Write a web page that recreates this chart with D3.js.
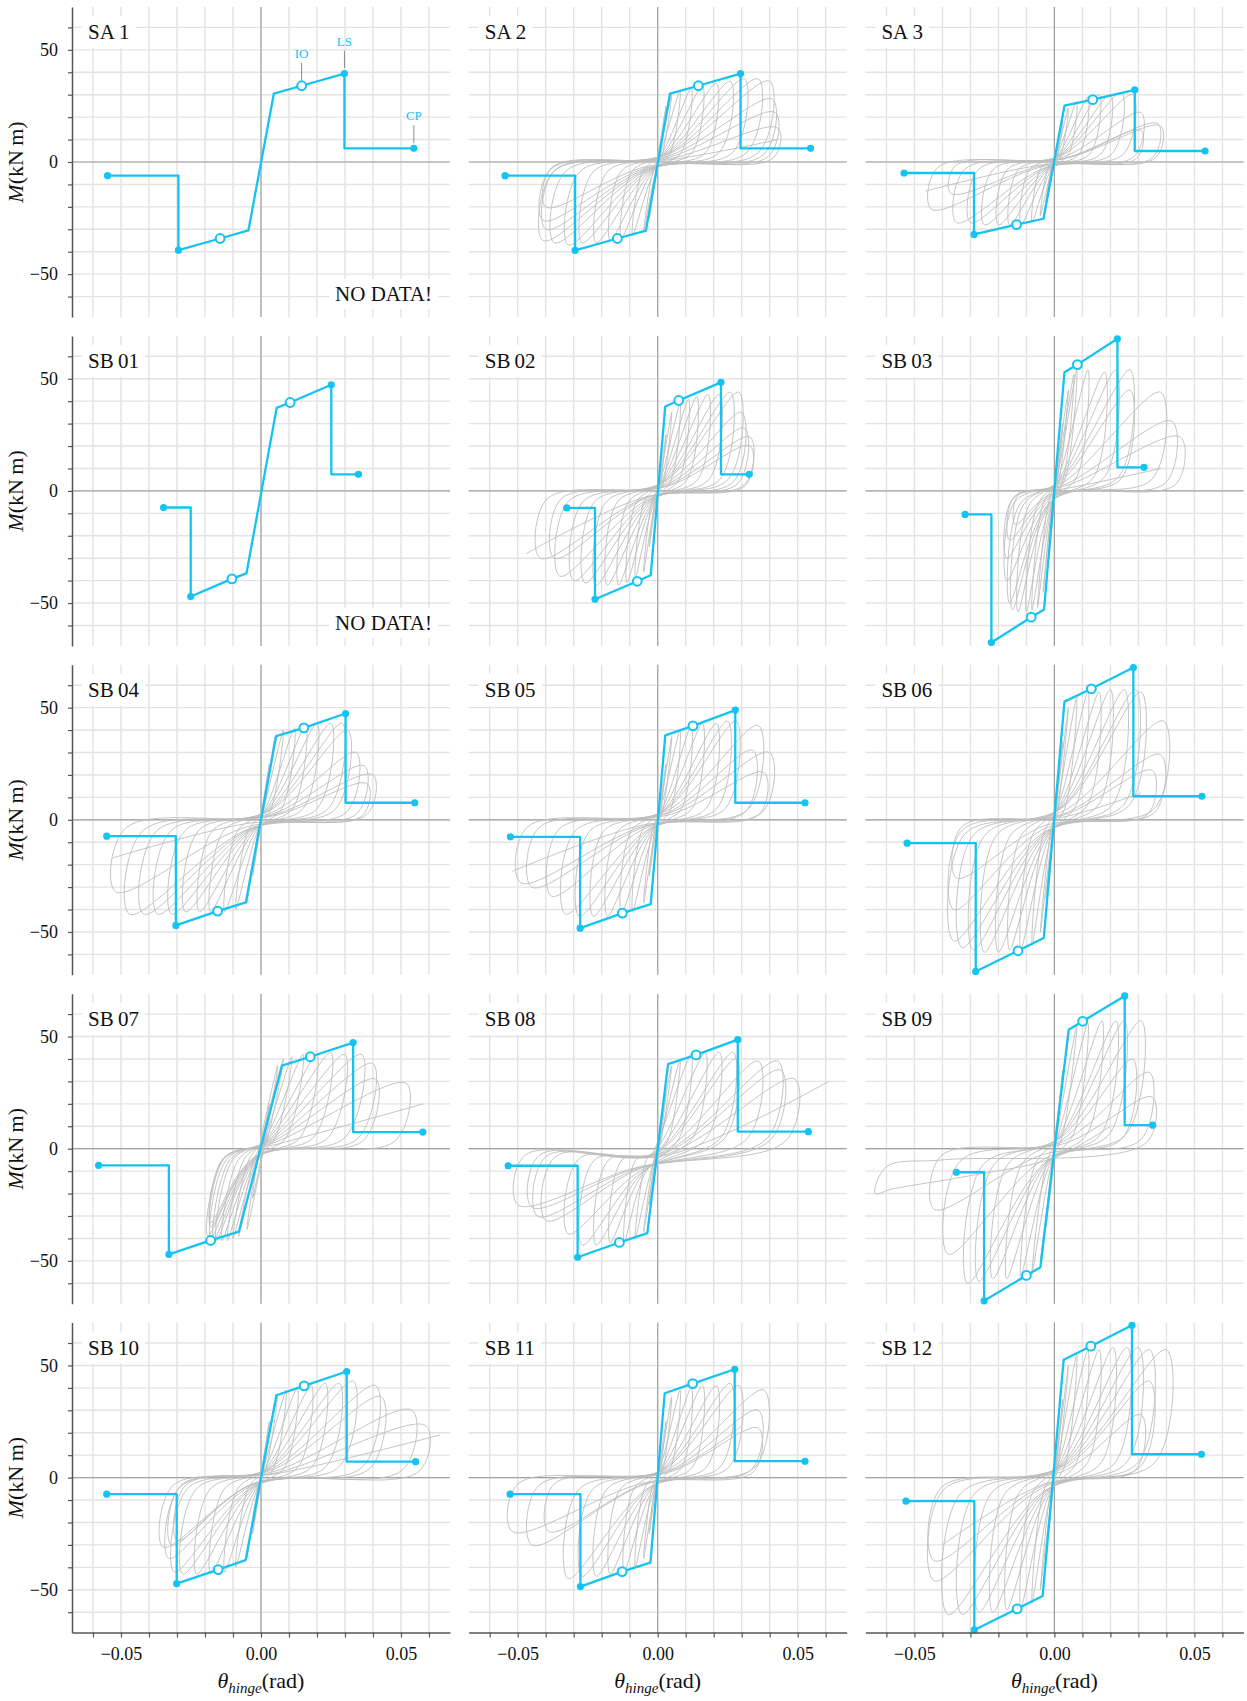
<!DOCTYPE html>
<html><head><meta charset="utf-8">
<script src="https://cdn.jsdelivr.net/npm/d3@7"></script>
<style>
body{margin:0;background:#fff;}
svg text{font-family:"Liberation Serif","DejaVu Serif",serif;fill:#111;}
</style></head><body>
<svg id="chart" width="1247" height="1701"></svg>
<script>
// ---------- categories / labels ----------
const panelNames = ["SA\u20091","SA\u20092","SA\u20093","SB\u200901","SB\u200902","SB\u200903","SB\u200904","SB\u200905","SB\u200906","SB\u200907","SB\u200908","SB\u200909","SB\u200910","SB\u200911","SB\u200912"];
const noDataPanels = ["SA\u20091","SB\u200901"];
const xGridTicks = [-0.06,-0.05,-0.04,-0.03,-0.02,-0.01,0,0.01,0.02,0.03,0.04,0.05,0.06];
const xLabelTicks = [-0.05,0,0.05];
const yGridTicks = [-60,-50,-40,-30,-20,-10,0,10,20,30,40,50,60];
const yLabelTicks = [-50,0,50];
const limitLabels = ["IO","LS","CP"];

// ---------- backbone curves: [theta (rad), M (kN m)] ----------
const bbSA1  = [[-0.0548,-6.1],[-0.0295,-6.1],[-0.0295,-39.3],[-0.0146,-34.1],[-0.0045,-30.5],[0.0046,30.5],[0.0145,34.0],[0.0298,39.4],[0.0298,6.1],[0.0546,6.1]];
const bbSA2  = [[-0.0545,-6.1],[-0.0295,-6.1],[-0.0295,-39.4],[-0.0144,-34.1],[-0.0042,-30.6],[0.0044,30.5],[0.0145,34.0],[0.0296,39.4],[0.0296,6.1],[0.0546,6.1]];
const bbSA3  = [[-0.0537,-4.9],[-0.0287,-4.9],[-0.0287,-32.3],[-0.0135,-27.9],[-0.0039,-25.3],[0.0036,25.1],[0.0137,27.8],[0.0287,32.2],[0.0287,4.9],[0.0538,4.9]];
const bbSB01 = [[-0.0348,-7.4],[-0.0251,-7.4],[-0.0251,-47.1],[-0.0104,-39.2],[-0.0052,-36.8],[0.0056,37.0],[0.0104,39.4],[0.0251,47.3],[0.0251,7.4],[0.0348,7.4]];
const bbSB02 = [[-0.0325,-7.6],[-0.0224,-7.6],[-0.0224,-48.3],[-0.0073,-40.3],[-0.0025,-37.6],[0.0027,37.6],[0.0075,40.3],[0.0226,48.4],[0.0226,7.4],[0.0327,7.4]];
const bbSB03 = [[-0.0319,-10.5],[-0.0225,-10.5],[-0.0225,-67.6],[-0.0083,-56.3],[-0.0037,-52.9],[0.0036,52.9],[0.0082,56.3],[0.0225,67.8],[0.0225,10.5],[0.0320,10.5]];
const bbSB04 = [[-0.0551,-7.3],[-0.0304,-7.3],[-0.0304,-47.1],[-0.0155,-40.7],[-0.0054,-36.8],[0.0054,37.3],[0.0153,41.0],[0.0302,47.4],[0.0302,7.6],[0.0549,7.6]];
const bbSB05 = [[-0.0526,-7.6],[-0.0277,-7.6],[-0.0277,-48.3],[-0.0126,-41.6],[-0.0025,-37.6],[0.0027,37.6],[0.0126,41.9],[0.0277,48.9],[0.0277,7.6],[0.0526,7.6]];
const bbSB06 = [[-0.0526,-10.4],[-0.0281,-10.4],[-0.0281,-67.6],[-0.0130,-58.4],[-0.0038,-52.7],[0.0036,52.7],[0.0132,58.4],[0.0282,67.9],[0.0282,10.5],[0.0527,10.5]];
const bbSB07 = [[-0.0580,-7.4],[-0.0329,-7.4],[-0.0329,-47.1],[-0.0180,-40.9],[-0.0079,-37.0],[0.0075,37.0],[0.0176,41.0],[0.0329,47.3],[0.0329,7.4],[0.0578,7.4]];
const bbSB08 = [[-0.0534,-7.6],[-0.0286,-7.6],[-0.0286,-48.4],[-0.0137,-41.8],[-0.0037,-37.6],[0.0037,37.7],[0.0137,41.8],[0.0286,48.6],[0.0286,7.6],[0.0538,7.6]];
const bbSB09 = [[-0.0350,-10.5],[-0.0251,-10.5],[-0.0251,-67.8],[-0.0100,-56.5],[-0.0050,-52.9],[0.0051,53.0],[0.0101,56.8],[0.0251,68.1],[0.0251,10.5],[0.0351,10.5]];
const bbSB10 = [[-0.0551,-7.4],[-0.0301,-7.4],[-0.0301,-47.3],[-0.0153,-41.0],[-0.0055,-36.8],[0.0055,36.7],[0.0154,40.9],[0.0306,47.3],[0.0306,7.1],[0.0552,7.1]];
const bbSB11 = [[-0.0527,-7.4],[-0.0276,-7.4],[-0.0276,-48.6],[-0.0127,-41.9],[-0.0026,-37.9],[0.0025,37.6],[0.0125,41.9],[0.0275,48.3],[0.0275,7.3],[0.0526,7.3]];
const bbSB12 = [[-0.0530,-10.5],[-0.0286,-10.5],[-0.0286,-67.9],[-0.0133,-58.5],[-0.0042,-52.8],[0.0033,52.5],[0.0130,58.6],[0.0277,67.9],[0.0277,10.4],[0.0525,10.4]];

// ---------- measured hysteresis (theta in mrad, M in kN m), flat pairs ----------
const hySA2 = [0,0, 3,25, 0.2,3, -0.3,-2.5, -3,-25, -0.2,-3, 0.5,3, 5,30, 1.7,3.6, -0.5,-3.1, -5,-31, -1.6,-3.7, 0.8,3.2, 8,32, 4.4,3.8, -0.9,-3.3, -9,-33, -5.3,-4, 1.2,3.3, 12,33, 8.3,4, -1.3,-3.4, -13,-34, -9.2,-4.1, 1.6,3.4, 16,34, 12.2,4.1, -1.7,-3.5, -17,-35, -13.1,-4.2, 2.1,3.5, 21,35, 17.1,4.2, -2.2,-3.6, -22,-36, -18,-4.3, 2.6,3.6, 26,36, 22,4.3, -2.7,-3.6, -27,-36, -23,-4.3, 3.1,3.7, 31,37, 26.9,4.4, -3.2,-3.7, -32,-37, -27.9,-4.4, 3.6,3.7, 36,37, 31.9,4.4, -3.7,-3.6, -37,-36, -33,-4.3, 4,3.6, 40,36, 36,4.3, -4.1,-3.5, -41,-35, -37.1,-4.2, 4.1,2.8, 41,28, 37.9,3.4, -4,-3, -40,-30, -36.7,-3.6, 4.2,2.2, 42,22, 39.6,2.6, -4.1,-2.6, -41,-26, -38.1,-3.1, 4.3,1.5, 43,15, 41.3,1.8, -4,-2, -40,-20, -37.8,-2.4, 4.3,1, 43,10];
const hySA3 = [0,0, 3,18, 1,2.2, -0.3,-1.8, -3,-18, -1,-2.2, 0.5,2.4, 5,24, 2.3,2.9, -0.5,-2.4, -5,-24, -2.3,-2.9, 0.8,2.7, 8,27, 5,3.2, -0.8,-2.7, -8,-27, -5,-3.2, 1.2,2.9, 12,29, 8.8,3.5, -1.2,-2.8, -12,-28, -8.9,-3.4, 1.6,3, 16,30, 12.7,3.6, -1.6,-2.8, -16,-28, -12.9,-3.4, 2,3, 20,30, 16.7,3.6, -2,-2.8, -20,-28, -16.9,-3.4, 2.4,3.1, 24,31, 20.6,3.7, -2.5,-2.8, -25,-28, -21.9,-3.4, 2.8,3, 28,30, 24.7,3.6, -3,-2.7, -30,-27, -27,-3.2, 3.1,2.2, 31,22, 28.6,2.6, -3.5,-2.7, -35,-27, -32,-3.2, 3.1,1.4, 31,14, 29.4,1.7, -3.7,-1.4, -37,-14, -35.4,-1.7, 3.7,1.7, 37,17, 35.1,2, -4.4,-2.1, -44,-21, -41.7,-2.5, 3.8,1.6, 38,16, 36.2,1.9, -4.6,-1.3, -46,-13];
const hySB02 = [0,0, 3,25, 0.9,3, -0.3,-2.5, -3,-25, -0.9,-3, 0.5,3.5, 5,35, 2.1,4.2, -0.5,-3.6, -5,-36, -2,-4.3, 0.8,3.9, 8,39, 4.75,4.7, -0.8,-3.9, -8,-39, -4.75,-4.7, 1.1,4.1, 11,41, 7.6,4.9, -1.1,-4.1, -11,-41, -7.6,-4.9, 1.4,4.2, 14,42, 10.5,5, -1.4,-4.2, -14,-42, -10.5,-5, 1.8,4.3, 18,43, 14.4,5.2, -1.8,-4.2, -18,-42, -14.5,-5, 2.2,4.3, 22,43, 18.4,5.2, -2.2,-4.2, -22,-42, -18.5,-5, 2.6,4.4, 26,44, 22.3,5.3, -2.6,-4.1, -26,-41, -22.6,-4.9, 2.9,4.4, 29,44, 25.3,5.3, -3,-4, -30,-40, -26.7,-4.8, 3,3.5, 30,35, 27.1,4.2, -3.5,-3.8, -35,-38, -31.8,-4.6, 3.1,2.8, 31,28, 28.7,3.4, -3.7,-3, -37,-30, -34.5,-3.6, 3.3,2.4, 33,24, 31,2.9, -4.2,-3, -42,-30, -39.5,-3.6, 3.3,2, 33,20, 31.3,2.4, -4.7,-2.8, -47,-28];
const hySB03 = [0,0, 3,30, 0.9,3.6, -0.2,-3, -2,-30, 0.1,-3.6, 0.5,4.5, 5,45, 1.8,5.4, -0.4,-4.5, -4,-45, -0.8,-5.4, 0.7,5.2, 7,52, 3.3,6.2, -0.6,-5.2, -6,-52, -2.3,-6.2, 0.8,5.4, 8,54, 4.1,6.5, -0.8,-5.3, -8,-53, -4.2,-6.4, 1.2,5.4, 12,54, 8.1,6.5, -1,-5.4, -10,-54, -6.1,-6.5, 1.8,5.3, 18,53, 14.2,6.4, -1.3,-5.4, -13,-54, -9.1,-6.5, 2.2,5.4, 22,54, 18.1,6.5, -1.5,-5.3, -15,-53, -11.2,-6.4, 2.7,5.4, 27,54, 23.1,6.5, -1.6,-5, -16,-50, -12.4,-6, 2.7,4.5, 27,45, 23.8,5.4, -1.7,-4, -17,-40, -14.1,-4.8, 3.8,4.4, 38,44, 34.9,5.3, -1.7,-3, -17,-30, -14.9,-3.6, 4.2,3.1, 42,31, 39.8,3.7, -1.6,-2.2, -16,-22, -14.4,-2.6, 4.5,2.4, 45,24, 43.3,2.9, -1.4,-1.5, -14,-15, -12.9,-1.8, 3.8,1, 38,10];
const hySB04 = [0,0, 3,25, 0.2,3, -0.3,-2.5, -3,-25, -0.2,-3, 0.5,3.7, 5,37, 0.9,4.4, -0.5,-3.7, -5,-37, -0.9,-4.4, 0.8,4, 8,40, 3.6,4.8, -0.9,-4, -9,-40, -4.6,-4.8, 1.2,4.1, 12,41, 7.4,4.9, -1.3,-4.1, -13,-41, -8.4,-4.9, 1.6,4.2, 16,42, 11.3,5, -1.8,-4.1, -18,-41, -13.4,-4.9, 2,4.3, 20,43, 15.2,5.2, -2.2,-4.1, -22,-41, -17.4,-4.9, 2.5,4.3, 25,43, 20.2,5.2, -2.7,-4.1, -27,-41, -22.4,-4.9, 2.9,4.3, 29,43, 24.2,5.2, -3.2,-4.2, -32,-42, -27.3,-5, 3.1,4, 31,40, 26.6,4.8, -3.7,-4.2, -37,-42, -32.3,-5, 3.4,3, 34,30, 30.7,3.6, -4.2,-4.2, -42,-42, -37.3,-5, 3.7,2.4, 37,24, 34.3,2.9, -4.7,-4.2, -47,-42, -42.3,-5, 4,2, 40,20, 37.8,2.4, -5.2,-3.2, -52,-32, -48.4,-3.8, 3.8,1.6, 38,16, 36.2,1.9, -5.3,-1.7, -53,-17];
const hySB05 = [0,0, 3,25, 0.9,3, -0.3,-2.5, -3,-25, -0.9,-3, 0.5,3.7, 5,37, 1.9,4.4, -0.5,-3.7, -5,-37, -1.9,-4.4, 0.8,4, 8,40, 4.7,4.8, -0.9,-4.1, -9,-41, -5.6,-4.9, 1.2,4.2, 12,42, 8.5,5, -1.3,-4.2, -13,-42, -9.5,-5, 1.6,4.3, 16,43, 12.4,5.2, -1.8,-4.3, -18,-43, -14.4,-5.2, 2.1,4.3, 21,43, 17.4,5.2, -2.3,-4.3, -23,-43, -19.4,-5.2, 2.5,4.4, 25,44, 21.3,5.3, -2.8,-4.3, -28,-43, -24.4,-5.2, 2.8,4.4, 28,44, 24.3,5.3, -3.3,-4.2, -33,-42, -29.5,-5, 3.6,4.2, 36,42, 32.5,5, -3.8,-3.4, -38,-34, -35.2,-4.1, 3.4,3.1, 34,31, 31.4,3.7, -4.5,-3, -45,-30, -42.5,-3.6, 4,3, 40,30, 37.5,3.6, -4.9,-2.8, -49,-28, -46.7,-3.4, 3.8,2.1, 38,21, 36.25,2.5, -5.2,-2.3, -52,-23];
const hySB06 = [0,0, 3,35, 0.5,4.2, -0.3,-3.5, -3,-35, -0.5,-4.2, 0.5,5, 5,50, 1.4,6, -0.5,-5, -5,-50, -1.4,-6, 0.8,5.5, 8,55, 4.1,6.6, -0.8,-5.6, -8,-56, -4,-6.7, 1.2,5.7, 12,57, 7.9,6.8, -1.2,-5.8, -12,-58, -7.9,-7, 1.6,5.7, 16,57, 11.9,6.8, -1.6,-5.8, -16,-58, -11.9,-7, 2,5.8, 20,58, 15.9,7, -2,-5.9, -20,-59, -15.8,-7.1, 2.5,5.8, 25,58, 20.9,7, -2.5,-5.9, -25,-59, -20.8,-7.1, 2.9,5.8, 29,58, 24.9,7, -2.9,-5.8, -29,-58, -24.9,-7, 3.1,5.7, 31,57, 26.9,6.8, -3.3,-5.7, -33,-57, -28.9,-6.8, 3.9,4.4, 39,44, 35.9,5.3, -3.6,-5.4, -36,-54, -32.1,-6.5, 3.8,2.9, 38,29, 35.9,3.5, -3.6,-4, -36,-40, -33.1,-4.8, 3.5,2.2, 35,22, 33.4,2.6, -3.5,-2.6, -35,-26, -33.1,-3.1, 3.1,1.2, 31,12];
const hySB07 = [0,0, 3,20, 0.5,-1, -3,-22, -0.5,1, 6,37, 1.5,3, -5,-36, -1,-3, 8,40, 2.3,4.8, -0.8,-3.9, -8,-39, -2.4,-4.7, 1.1,4.1, 11,41, 5.1,4.9, -1,-4, -10,-40, -4.3,-4.8, 1.5,4.2, 15,42, 9,5, -1.2,-4.1, -12,-41, -6.1,-4.9, 2,4.2, 20,42, 14,5, -1.4,-4.1, -14,-41, -8.1,-4.9, 2.5,4.3, 25,43, 18.9,5.2, -1.6,-4.1, -16,-41, -10.1,-4.9, 3,4.2, 30,42, 24,5, -1.7,-4.1, -17,-41, -11.1,-4.9, 3.6,4.2, 36,42, 30,5, -1.8,-4, -18,-40, -12.3,-4.8, 4,3.8, 40,38, 34.6,4.6, -1.9,-3.9, -19,-39, -13.4,-4.7, 4.1,3.1, 41,31, 36.6,3.7, -1.8,-3.5, -18,-35, -13,-4.2, 5.2,2.9, 52,29, 47.9,3.5, -1.8,-3.3, -18,-33, -13.3,-4, 5.8,2, 58,20];
const hySB08 = [0,0, 3,25, 0.6,1, -3,-25, -0.6,-1, 5,37, 1.3,4.4, -0.5,-3.7, -5,-37, -1.3,-4.4, 0.8,4, 8,40, 4,4.8, -0.8,-4, -8,-40, -4,-4.8, -1.8,-1.8, 12,42, 7.8,5, -4.2,-10.2, -12,-42, -7.8,-5, -1.3,-1.7, 17,43, 12.7,5.2, -4.7,-10.2, -17,-42, -12.8,-5, -0.8,-1.7, 22,43, 17.7,5.2, -5.2,-10.3, -22,-43, -17.7,-5.2, -0.3,-1.7, 27,43, 22.7,5.2, -5.7,-10.3, -27,-43, -22.7,-5.2, -0.2,-2, 28,40, 24,4.8, -6.2,-9.8, -32,-38, -28.2,-4.6, 0.6,-2.1, 36,39, 32.1,4.7, -7,-9.2, -40,-32, -36.8,-3.8, 1.3,-2.1, 43,39, 39.1,4.7, -7.3,-9, -43,-30, -40,-3.6, 1.4,-2.5, 44,35, 40.5,4.2, -8,-8.5, -50,-25, -47.5,-3, 1.9,-2.9, 49,31, 45.9,3.7, -7.5,-8.6, -45,-26, -42.4,-3.1, 3.1,-3, 61,30];
const hySB09 = [0,0, 3,35, 0.5,2, -3,-35, -0.5,-2, 5,50, 0.5,6, -0.5,-5, -5,-50, -0.5,-6, 0.8,5.5, 8,55, 3,6.6, -0.8,-5.6, -8,-56, -2.9,-6.7, 1.2,5.6, 12,56, 6.9,6.7, -1.2,-5.7, -12,-57, -6.8,-6.8, 1.7,5.7, 17,57, 11.8,6.8, -1.7,-5.8, -17,-58, -11.7,-7, 2.2,5.7, 22,57, 16.8,6.8, -2.2,-5.8, -22,-58, -16.7,-7, 2.5,5.7, 25,57, 19.8,6.8, -2.7,-5.9, -27,-59, -21.6,-7.1, 3.1,5.7, 31,57, 25.8,6.8, -3.1,-6, -31,-60, -25.5,-7.2, 2.8,4, 28,40, 24.4,4.8, -3.8,-4.7, -38,-47, -33.7,-5.6, 3.4,3.4, 34,34, 30.9,4.1, -4.3,-2.7, -43,-27, -40.5,-3.2, 3.5,2.3, 35,23, 32.9,2.8, -40,-5, -60,-8, -64,-20, -58,-18, -30,-12, 0,-4, 20,10];
const hySB10 = [0,0, 3,25, 0.2,3, -0.3,-2.5, -3,-25, -0.2,-3, 0.6,3.7, 6,37, 1.9,4.4, -0.5,-3.6, -5,-36, -1,-4.3, 0.9,3.9, 9,39, 4.7,4.7, -0.9,-4, -9,-40, -4.6,-4.8, 1.3,4, 13,40, 8.6,4.8, -1.3,-4.2, -13,-42, -8.3,-5, 1.8,4.1, 18,41, 13.4,4.9, -1.8,-4.3, -18,-43, -13.2,-5.2, 2.3,4.2, 23,42, 18.3,5, -2.3,-4.3, -23,-43, -18.2,-5.2, 2.8,4.2, 28,42, 23.3,5, -2.8,-4.3, -28,-43, -23.2,-5.2, 3.3,4.3, 33,43, 28.2,5.2, -3.1,-4.2, -31,-42, -26.3,-5, 4.1,4.1, 41,41, 36.4,4.9, -3.5,-3.1, -35,-31, -31.6,-3.7, 4.3,3.6, 43,36, 39,4.3, -3.3,-3.6, -33,-36, -29,-4.3, 5.4,3, 54,30, 50.7,3.6, -3.2,-3, -32,-30, -28.7,-3.6, 5.9,2.3, 59,23, 56.4,2.8, -3,-2.8, -30,-28, -26.9,-3.4, 6.4,1.9, 64,19];
const hySB11 = [0,0, 3,25, 0.9,3, -0.3,-2.5, -3,-25, -0.9,-3, 0.5,3.6, 5,36, 2,4.3, -0.5,-3.6, -5,-36, -2,-4.3, 0.8,3.9, 8,39, 4.75,4.7, -0.8,-4, -8,-40, -4.7,-4.8, 1.2,4, 12,40, 8.7,4.8, -1.2,-4.2, -12,-42, -8.5,-5, 1.6,4.1, 16,41, 12.6,4.9, -1.7,-4.3, -17,-43, -13.4,-5.2, 2.1,4.1, 21,41, 17.6,4.9, -2.2,-4.4, -22,-44, -18.3,-5.3, 2.6,4.2, 26,42, 22.5,5, -2.7,-4.4, -27,-44, -23.3,-5.3, 2.9,4.1, 29,41, 25.6,4.9, -3.2,-4.5, -32,-45, -28.25,-5.4, 3.8,3.9, 38,39, 34.75,4.7, -3.9,-2.4, -39,-24, -37,-2.9, 3.6,3, 36,30, 33.5,3.6, -4.5,-3, -45,-30, -42.5,-3.6, 3.6,2.2, 36,22, 34.2,2.6, -5.2,-2.4, -52,-24, -50,-2.9, 3,2.3, 30,23];
const hySB12 = [0,0, 3,35, 0.5,4.2, -0.3,-3.5, -3,-35, -0.5,-4.2, 0.5,5, 5,50, 1.4,6, -0.5,-5, -5,-50, -1.4,-6, 0.8,5.5, 8,55, 4.1,6.6, -0.8,-5.6, -8,-56, -4,-6.7, 1.2,5.7, 12,57, 7.9,6.8, -1.2,-5.8, -12,-58, -7.9,-7, 1.6,5.7, 16,57, 11.9,6.8, -1.7,-5.9, -17,-59, -12.8,-7.1, 2.1,5.8, 21,58, 16.9,7, -2.2,-6, -22,-60, -17.7,-7.2, 2.6,5.8, 26,58, 21.9,7, -2.7,-6, -27,-60, -22.7,-7.2, 3,5.8, 30,58, 25.9,7, -3.3,-6.1, -33,-61, -28.6,-7.3, 3.4,5.7, 34,57, 29.9,6.8, -3.8,-6.1, -38,-61, -33.6,-7.3, 4,5.7, 40,57, 35.9,6.8, -4.3,-4.6, -43,-46, -39.7,-5.5, 3.4,4.3, 34,43, 30.9,5.2, -4.3,-3.7, -43,-37, -40.4,-4.4, 3.1,2.8, 31,28, 29,3.4, -4,-3, -40,-30];

const backbones = [bbSA1,bbSA2,bbSA3,bbSB01,bbSB02,bbSB03,bbSB04,bbSB05,bbSB06,bbSB07,bbSB08,bbSB09,bbSB10,bbSB11,bbSB12];
const hysteresis = [null,hySA2,hySA3,null,hySB02,hySB03,hySB04,hySB05,hySB06,hySB07,hySB08,hySB09,hySB10,hySB11,hySB12];

// ---------- layout ----------
const COL_X = [72, 468.7, 865.4];
const ROW_Y = [7, 335.9, 664.8, 993.7, 1322.6];
const W = 378, H = 310;
const BLUE = "#14c3f2";

const svg = d3.select("#chart");
const x = d3.scaleLinear().domain([-0.0675, 0.0675]).range([0, W]);
const y = d3.scaleLinear().domain([-69.1, 69.1]).range([H, 0]);
const bbLine = d3.line().x(d => x(d[0])).y(d => y(d[1]));
const hyLine = d3.line().x(d => x(d[0] / 1000)).y(d => y(d[1])).curve(d3.curveCatmullRom.alpha(0.5));
const toPairs = arr => d3.range(0, arr.length, 2).map(i => [arr[i], arr[i + 1]]);

panelNames.forEach((name, i) => {
  const r = Math.floor(i / 3), c = i % 3;
  const g = svg.append("g").attr("transform", `translate(${COL_X[c]},${ROW_Y[r]})`);

  // grid
  g.append("g").selectAll("line").data(xGridTicks).join("line")
    .attr("x1", d => x(d)).attr("x2", d => x(d)).attr("y1", 0).attr("y2", H)
    .attr("stroke", "#e3e3e3").attr("stroke-width", 1.4);
  g.append("g").selectAll("line").data(yGridTicks).join("line")
    .attr("x1", 0).attr("x2", W).attr("y1", d => y(d)).attr("y2", d => y(d))
    .attr("stroke", "#e3e3e3").attr("stroke-width", 1.4);
  // zero lines
  g.append("line").attr("x1", x(0)).attr("x2", x(0)).attr("y1", 0).attr("y2", H)
    .attr("stroke", "#a2a2a2").attr("stroke-width", 1.2);
  g.append("line").attr("x1", 0).attr("x2", W).attr("y1", y(0)).attr("y2", y(0))
    .attr("stroke", "#a2a2a2").attr("stroke-width", 1.2);

  // hysteresis
  if (hysteresis[i]) {
    g.append("path").attr("d", hyLine(toPairs(hysteresis[i])))
      .attr("fill", "none").attr("stroke", "#bdbdbd").attr("stroke-width", 0.9);
  }

  // backbone
  const bb = backbones[i];
  g.append("path").attr("d", bbLine(bb)).attr("fill", "none")
    .attr("stroke", BLUE).attr("stroke-width", 2.3).attr("stroke-linejoin", "round");
  [0, 2, 7, 9].forEach(k => {
    g.append("circle").attr("cx", x(bb[k][0])).attr("cy", y(bb[k][1])).attr("r", 3.6).attr("fill", BLUE);
  });
  [3, 6].forEach(k => {
    g.append("circle").attr("cx", x(bb[k][0])).attr("cy", y(bb[k][1])).attr("r", 4.4)
      .attr("fill", "#fff").attr("stroke", BLUE).attr("stroke-width", 2);
  });

  // limit-state annotations (first panel only)
  if (i === 0) {
    [6, 7, 9].forEach((k, j) => {
      const px = x(bb[k][0]), py = y(bb[k][1]);
      g.append("line").attr("x1", px).attr("x2", px).attr("y1", py - 23).attr("y2", py - 5.5)
        .attr("stroke", "#8a8a8a").attr("stroke-width", 1);
      g.append("text").attr("x", px).attr("y", py - 28).attr("text-anchor", "middle")
        .attr("font-size", 13).style("fill", BLUE).text(limitLabels[j]);
    });
  }

  // panel label with white box
  const lab = g.append("g");
  const lt = lab.append("text").attr("x", 16).attr("y", 32).attr("font-size", 21).text(name);
  const lb = lt.node().getBBox();
  lab.insert("rect", "text").attr("x", lb.x - 6).attr("y", lb.y - 4).attr("width", lb.width + 12)
    .attr("height", lb.height + 8).attr("fill", "#fff");

  if (noDataPanels.includes(name)) {
    const nd = g.append("g");
    const nt = nd.append("text").attr("x", W - 18).attr("y", H - 16).attr("text-anchor", "end")
      .attr("font-size", 21).text("NO DATA!");
    const nb = nt.node().getBBox();
    nd.insert("rect", "text").attr("x", nb.x - 6).attr("y", nb.y - 3).attr("width", nb.width + 12)
      .attr("height", nb.height + 6).attr("fill", "#fff");
  }

  // left axis
  if (c === 0) {
    const ax = g.append("g").call(
      d3.axisLeft(y).tickValues(yGridTicks).tickSize(4).tickSizeOuter(0).tickPadding(10)
        .tickFormat(d => yLabelTicks.includes(d) ? d3.format("d")(d) : ""));
    ax.select(".domain").attr("stroke", "#555").attr("stroke-width", 1.5);
    ax.selectAll(".tick line").attr("stroke", "#555").attr("stroke-width", 1.2);
    ax.selectAll(".tick text").attr("font-size", 18).attr("font-family", "Liberation Serif").attr("fill", "#111");
    const yt = g.append("text").attr("transform", `translate(-49,${H / 2}) rotate(-90)`)
      .attr("text-anchor", "middle").attr("font-size", 22);
    yt.append("tspan").attr("font-style", "italic").text("M");
    yt.append("tspan").text("(kN\u2009m)");
  }

  // bottom axis
  if (r === 4) {
    const bx = g.append("g").attr("transform", `translate(0,${H})`).call(
      d3.axisBottom(x).tickValues(xGridTicks).tickSize(5).tickSizeOuter(0).tickPadding(10)
        .tickFormat(d => xLabelTicks.some(v => Math.abs(v - d) < 1e-9) ? d3.format(".2f")(d) : ""));
    bx.select(".domain").attr("stroke", "#555").attr("stroke-width", 1.5);
    bx.selectAll(".tick line").attr("stroke", "#555").attr("stroke-width", 1.2);
    bx.selectAll(".tick text").attr("font-size", 18).attr("font-family", "Liberation Serif").attr("fill", "#111");
    const xt = g.append("text").attr("x", W / 2).attr("y", H + 55).attr("text-anchor", "middle").attr("font-size", 22);
    xt.append("tspan").attr("font-style", "italic").text("\u03b8");
    xt.append("tspan").attr("font-style", "italic").attr("font-size", 15).attr("dy", 5).text("hinge");
    xt.append("tspan").attr("dy", -5).text("(rad)");
  }
});
</script>
</body></html>
